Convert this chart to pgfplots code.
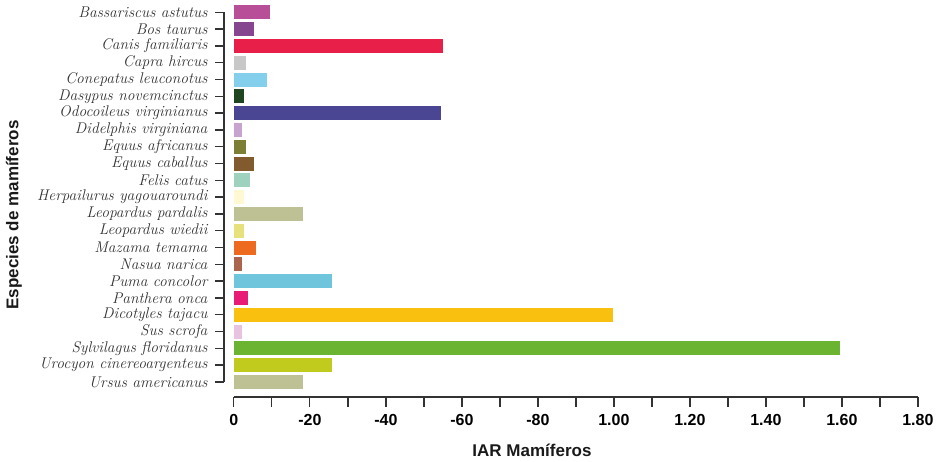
\documentclass[border=0pt]{standalone}
\usepackage{fontspec}
\setsansfont{Liberation Sans}
\usepackage{pgfplots}
\pgfplotsset{compat=1.18}
\definecolor{c1}{HTML}{B84E97}
\definecolor{c2}{HTML}{86468F}
\definecolor{c3}{HTML}{E81F48}
\definecolor{c4}{HTML}{C8C8C8}
\definecolor{c5}{HTML}{84CFEC}
\definecolor{c6}{HTML}{1E4620}
\definecolor{c7}{HTML}{4A4694}
\definecolor{c8}{HTML}{C6A4CF}
\definecolor{c9}{HTML}{7C7F33}
\definecolor{c10}{HTML}{815A2D}
\definecolor{c11}{HTML}{9ED2BE}
\definecolor{c12}{HTML}{FFF8D2}
\definecolor{c13}{HTML}{BEC194}
\definecolor{c14}{HTML}{E6E17A}
\definecolor{c15}{HTML}{EE6A1F}
\definecolor{c16}{HTML}{AB654C}
\definecolor{c17}{HTML}{6EC5DC}
\definecolor{c18}{HTML}{E81C76}
\definecolor{c19}{HTML}{FAC00F}
\definecolor{c20}{HTML}{E8C3DF}
\definecolor{c21}{HTML}{6BB431}
\definecolor{c22}{HTML}{C1CB1E}
\definecolor{c23}{HTML}{BEC194}
\definecolor{axgray}{HTML}{333333}
\begin{document}
\begin{tikzpicture}
\useasboundingbox (-224pt,-80pt) rectangle (716pt,382pt);
\begin{axis}[
  at={(0,0)}, anchor=south west,
  scale only axis, width=693.9pt, height=369.7pt,
  xmin=-0.026, xmax=1.8, ymin=0, ymax=22, y dir=reverse,
  axis y line*=left, axis x line=none,
  ytick={0,...,22},
  yticklabels={Bassariscus astutus,Bos taurus,Canis familiaris,Capra hircus,Conepatus leuconotus,Dasypus novemcinctus,Odocoileus virginianus,Didelphis virginiana,Equus africanus,Equus caballus,Felis catus,Herpailurus yagouaroundi,Leopardus pardalis,Leopardus wiedii,Mazama temama,Nasua narica,Puma concolor,Panthera onca,Dicotyles tajacu,Sus scrofa,Sylvilagus floridanus,Urocyon cinereoargenteus,Ursus americanus},
  yticklabel style={font=\fontsize{15.5}{15.5}\selectfont\itshape, color=axgray, xshift=-4pt},
  tick align=outside, major tick length=9pt,
  y axis line style={line width=1.4pt, color=axgray},
  ytick style={line width=1.4pt, color=axgray},
  xbar, bar width=14pt, bar shift=0pt,
  clip=false,
]
\addplot[fill=c1, draw=none] coordinates {(0.095,0)};
\addplot[fill=c2, draw=none] coordinates {(0.053,1)};
\addplot[fill=c3, draw=none] coordinates {(0.550,2)};
\addplot[fill=c4, draw=none] coordinates {(0.032,3)};
\addplot[fill=c5, draw=none] coordinates {(0.088,4)};
\addplot[fill=c6, draw=none] coordinates {(0.026,5)};
\addplot[fill=c7, draw=none] coordinates {(0.544,6)};
\addplot[fill=c8, draw=none] coordinates {(0.021,7)};
\addplot[fill=c9, draw=none] coordinates {(0.032,8)};
\addplot[fill=c10, draw=none] coordinates {(0.053,9)};
\addplot[fill=c11, draw=none] coordinates {(0.042,10)};
\addplot[fill=c12, draw=none] coordinates {(0.026,11)};
\addplot[fill=c13, draw=none] coordinates {(0.181,12)};
\addplot[fill=c14, draw=none] coordinates {(0.026,13)};
\addplot[fill=c15, draw=none] coordinates {(0.058,14)};
\addplot[fill=c16, draw=none] coordinates {(0.021,15)};
\addplot[fill=c17, draw=none] coordinates {(0.258,16)};
\addplot[fill=c18, draw=none] coordinates {(0.037,17)};
\addplot[fill=c19, draw=none] coordinates {(0.998,18)};
\addplot[fill=c20, draw=none] coordinates {(0.021,19)};
\addplot[fill=c21, draw=none] coordinates {(1.595,20)};
\addplot[fill=c22, draw=none] coordinates {(0.258,21)};
\addplot[fill=c23, draw=none] coordinates {(0.181,22)};
\end{axis}
\begin{axis}[
  at={(9.9pt,-15pt)}, anchor=south west,
  scale only axis, width=684pt, height=10pt,
  xmin=0, xmax=1.8, ymin=0, ymax=1,
  axis x line*=bottom, axis y line=none,
  xtick={0,0.1,0.2,0.3,0.4,0.5,0.6,0.7,0.8,0.9,1.0,1.1,1.2,1.3,1.4,1.5,1.6,1.7,1.8},
  xticklabels={{0},{},{-20},{},{-40},{},{-60},{},{-80},{},{1.00},{},{1.20},{},{1.40},{},{1.60},{},{1.80}},
  xticklabel style={font=\sffamily\bfseries\fontsize{16}{16}\selectfont, color=black, yshift=-4pt},
  tick align=outside, major tick length=10pt,
  x axis line style={line width=1.4pt, color=axgray},
  xtick style={line width=1.2pt, color=axgray},
]
\end{axis}
\node[rotate=90, font=\sffamily\bfseries\fontsize{17}{17}\selectfont, color=black!90] at (-210pt,167pt) {Especies de mamíferos};
\node[font=\sffamily\bfseries\fontsize{17}{17}\selectfont, color=black!90] at (308pt,-68pt) {IAR Mamíferos};
\end{tikzpicture}
\end{document}
